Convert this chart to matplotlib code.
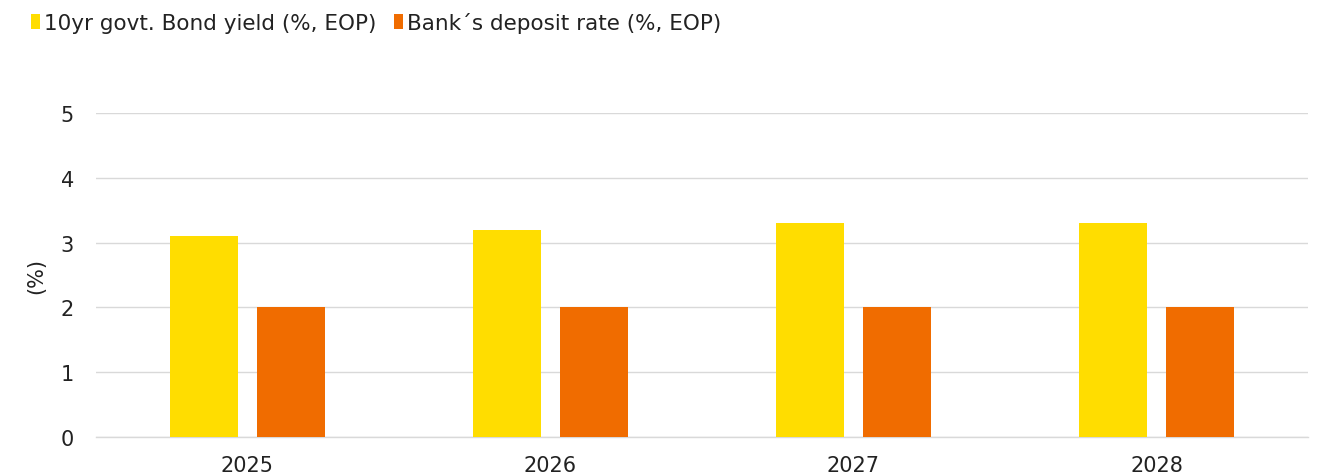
import matplotlib
matplotlib.use("Agg")
import matplotlib.pyplot as plt
import numpy as np

years = ["2025", "2026", "2027", "2028"]
bond_yield = [3.1, 3.2, 3.3, 3.3]
deposit_rate = [2.0, 2.0, 2.0, 2.0]
series_names = ["10yr govt. Bond yield (%, EOP)", "Bank\u00b4s deposit rate (%, EOP)"]
y_ticks = [0, 1, 2, 3, 4, 5]

plt.rcParams['font.family'] = ['DejaVu Sans']

fig = plt.figure(figsize=(13.26, 4.77), dpi=100)
ax = fig.add_axes([0.0724, 0.0818, 0.914, 0.6792])

x = np.arange(len(years))
w = 0.224
off = 0.143
ax.bar(x - off, bond_yield, width=w, color="#FFDD00", label=series_names[0], zorder=3)
ax.bar(x + off, deposit_rate, width=w, color="#F06C00", label=series_names[1], zorder=3)

ax.set_xlim(-0.5, len(years) - 0.5)
ax.set_ylim(0, 5)
ax.set_yticks(y_ticks)
ax.set_xticks(x)
ax.set_xticklabels(years)
ax.grid(axis="y", color="#D9D9D9", linewidth=1, zorder=0)
for s in ax.spines.values():
    s.set_visible(False)
ax.spines["bottom"].set_visible(True)
ax.spines["bottom"].set_color("#D9D9D9")
ax.spines["bottom"].set_linewidth(1)
ax.tick_params(axis="both", length=0, labelsize=15, colors="#222222")
ax.tick_params(axis="y", pad=16)
ax.tick_params(axis="x", pad=13)
ax.set_ylabel("(%)", fontsize=15, color="#222222", labelpad=10)

leg = fig.legend(loc="upper left", bbox_to_anchor=(0.014, 1.0), ncol=2, frameon=False,
                 fontsize=15.5, handlelength=0.4, handleheight=0.75, handletextpad=0.2,
                 columnspacing=0.8, borderaxespad=0.2)
for t in leg.get_texts():
    t.set_color("#222222")

fig.savefig("out.png", dpi=100)
